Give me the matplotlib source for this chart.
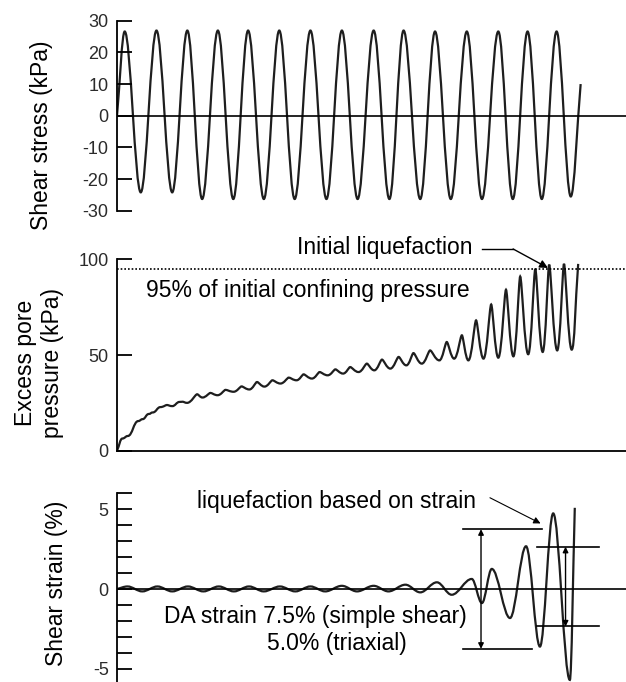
import numpy as np
import matplotlib.pyplot as plt
from matplotlib.path import Path
from matplotlib.patches import PathPatch

plt.rcParams['font.family'] = ['Liberation Sans', 'DejaVu Sans']
plt.rcParams['axes.unicode_minus'] = False

# Shear stress: loading cycle at each turning point and the stress there (kPa).
stress_cycle = [0.0, 0.25, 0.77, 1.28, 1.79, 2.28, 2.76, 3.27, 3.77, 4.25, 4.76,
                5.26, 5.76, 6.27, 6.79, 7.29, 7.80, 8.32, 8.83, 9.29, 9.83,
                10.31, 10.82, 11.34, 11.83, 12.36, 12.83, 13.31, 13.77, 14.25,
                14.71, 15.03]
stress_kpa = [0.0, 26.6, -24.2, 26.9, -24.2, 26.9, -26.3, 26.9, -26.3, 26.9, -26.3,
              26.9, -26.3, 26.9, -26.3, 26.9, -26.3, 26.9, -26.3, 26.9, -26.3,
              26.6, -26.3, 26.6, -26.3, 26.6, -26.3, 26.6, -26.3, 26.6,
              -25.5, 10.0]

# Excess pore pressure (kPa) at its local highs and lows.
pore_cycle = [0.0, 0.18, 0.35, 0.69, 0.83, 1.03, 1.16, 1.41, 1.62, 1.79, 2.03,
              2.13, 2.27, 2.60, 2.77, 3.03, 3.26, 3.52, 3.78, 4.04, 4.29, 4.54,
              4.78, 5.04, 5.30, 5.57, 5.82, 6.05, 6.32, 6.57, 6.83, 7.08, 7.33,
              7.56, 7.83, 8.10, 8.34, 8.59, 8.86, 9.13, 9.38, 9.61, 9.88, 10.15,
              10.45, 10.69, 10.93, 11.18, 11.39, 11.64, 11.88, 12.13, 12.36,
              12.61, 12.85, 13.07, 13.33, 13.56, 13.80, 14.01, 14.27, 14.49,
              14.74, 14.95]
pore_kpa = [0.0, 6.4, 7.7, 15.5, 16.5, 19.2, 20.0, 22.8, 23.9, 23.3, 25.5,
            25.6, 25.0, 29.5, 27.8, 30.2, 29.0, 31.8, 30.8, 33.6, 32.0, 35.9,
            33.5, 36.8, 35.1, 38.2, 36.8, 39.9, 37.7, 41.1, 39.4, 42.5, 40.3,
            43.7, 41.1, 45.5, 42.0, 47.6, 42.9, 49.0, 44.6, 51.0, 45.5, 52.4,
            47.2, 56.8, 48.1, 60.3, 47.2, 68.1, 48.1, 76.4, 48.6,
            84.1, 49.3, 91.0, 50.4, 95.0, 51.6, 97.2, 52.4, 97.6,
            52.8, 97.6]
liquefaction_ratio = 95  # % of initial confining pressure (100 kPa)

# Shear strain (%) at its peaks and troughs.
strain_cycle = [0.0, 0.34, 0.82, 1.31, 1.79, 2.30, 2.80, 3.30, 3.79, 4.28, 4.76,
                5.28, 5.78, 6.27, 6.75, 7.29, 7.78, 8.32, 8.80, 9.35, 9.83,
                10.37, 10.85, 11.50, 11.83, 12.15, 12.74, 13.26, 13.71, 14.14,
                14.68, 14.84]
strain_pct = [0.0, 0.16, -0.15, 0.16, -0.15, 0.16, -0.15, 0.16, -0.15, 0.16, -0.15,
              0.16, -0.15, 0.16, -0.15, 0.20, -0.15, 0.20, -0.15, 0.27, -0.21,
              0.42, -0.36, 0.63, -0.88, 1.26, -1.82, 2.68, -3.61, 4.74,
              -5.70, 5.09]

# Double amplitude strain criteria (%)
da_simple_shear = 7.5
da_triaxial = 5.0
triaxial_top = 2.65


def smooth_curve(ax, xs, ys, k_high=0.36, k_low=0.36, **kw):
    # Join the turning points with cubic segments that are flat at each turn;
    # a short handle gives a sharp turn, a long one a rounded turn.
    n = len(xs)

    def handle(i):
        if 0 < i < n - 1 and ys[i] >= max(ys[i - 1], ys[i + 1]):
            return k_high
        return k_low

    verts = [(xs[0], ys[0])]
    codes = [Path.MOVETO]
    for i in range(n - 1):
        dx = xs[i + 1] - xs[i]
        dy = ys[i + 1] - ys[i]
        k0, k1 = handle(i), handle(i + 1)
        if i == 0:
            c1 = (xs[i] + k0 * dx, ys[i] + k0 * dy)
        else:
            c1 = (xs[i] + k0 * dx, ys[i])
        if i == n - 2:
            c2 = (xs[i + 1] - k1 * dx, ys[i + 1] - k1 * dy)
        else:
            c2 = (xs[i + 1] - k1 * dx, ys[i + 1])
        verts += [c1, c2, (xs[i + 1], ys[i + 1])]
        codes += [Path.CURVE4] * 3
    ax.add_patch(PathPatch(Path(verts, codes), fill=False, **kw))


def style_axis(ax, ymin, ymax, show_bottom=False):
    ax.set_xlim(0, 16.5)
    ax.set_ylim(ymin, ymax)
    ax.set_xticks([])
    for side in ['top', 'right']:
        ax.spines[side].set_visible(False)
    ax.spines['bottom'].set_visible(show_bottom)
    ax.spines['left'].set_linewidth(1.3)
    ax.spines['bottom'].set_linewidth(1.3)
    ax.tick_params(axis='y', which='both', direction='in', length=10.8,
                   width=1.3, pad=6, labelsize=13, labelcolor='#2b2b2b')
    ax.patch.set_alpha(0)


curve_style = dict(edgecolor='#1e1e1e', linewidth=1.6)

fig = plt.figure(figsize=(6.26, 6.82), dpi=100)

# Shear stress
ax1 = fig.add_axes([0.1869, 0.691, 0.8131, 0.2786])
style_axis(ax1, -30, 30)
ax1.set_yticks(range(-30, 31, 10))
ax1.axhline(0, color='k', lw=1.2)
smooth_curve(ax1, stress_cycle, stress_kpa, **curve_style)

# Excess pore pressure
ax2 = fig.add_axes([0.1869, 0.3391, 0.8131, 0.2807])
style_axis(ax2, 0, 100, show_bottom=True)
ax2.set_yticks([0, 50, 100])
ax2.axhline(liquefaction_ratio, color='k', lw=1.2, linestyle=(0, (1, 1.2)))
smooth_curve(ax2, pore_cycle, pore_kpa, k_high=0.22, k_low=0.45, **curve_style)
ax2.text(0.93, 83.7, '%d%% of initial confining pressure' % liquefaction_ratio,
         fontsize=16.5, va='center')
ax2.text(5.84, 106.2, 'Initial liquefaction', fontsize=16.5, va='center')
ax2.plot([11.83, 12.84], [105.4, 105.4], color='k', lw=1, clip_on=False)
ax2.annotate('', xy=(13.97, 95.5), xytext=(12.84, 105.4),
             arrowprops=dict(arrowstyle='-|>', color='k', lw=1,
                             mutation_scale=12, shrinkA=0, shrinkB=0),
             annotation_clip=False)

# Shear strain
ax3 = fig.add_axes([0.1869, -0.004, 0.8131, 0.2807])
style_axis(ax3, -6, 6)
ax3.set_yticks([-5, 0, 5])
ax3.set_yticks(range(-6, 7), minor=True)
ax3.axhline(0, color='k', lw=1.2)
smooth_curve(ax3, strain_cycle, strain_pct, **curve_style)

# DA strain markers
ss_top, ss_bot = da_simple_shear / 2, -da_simple_shear / 2
tx_top, tx_bot = triaxial_top, triaxial_top - da_triaxial
ax3.plot([11.20, 13.77], [ss_top, ss_top], color='k', lw=1.2)
ax3.plot([11.20, 13.46], [ss_bot, ss_bot], color='k', lw=1.2)
ax3.plot([13.62, 15.62], [tx_top, tx_top], color='k', lw=1.2)
ax3.plot([13.62, 15.62], [tx_bot, tx_bot], color='k', lw=1.2)
for x, y0, y1 in [(11.80, ss_bot, ss_top), (14.54, tx_bot, tx_top)]:
    ax3.annotate('', xy=(x, y1), xytext=(x, y0),
                 arrowprops=dict(arrowstyle='<|-|>', color='k', lw=1,
                                 mutation_scale=8, shrinkA=0, shrinkB=0))

ax3.text(2.60, 5.51, 'liquefaction based on strain', fontsize=16.5, va='center')
ax3.annotate('', xy=(13.73, 4.11), xytext=(12.09, 5.72),
             arrowprops=dict(arrowstyle='-|>', color='k', lw=0.8,
                             mutation_scale=10, shrinkA=0, shrinkB=0))
ax3.text(1.52, -1.72, 'DA strain %.1f%% (simple shear)' % da_simple_shear,
         fontsize=16.5, va='center')
ax3.text(4.87, -3.40, '%.1f%% (triaxial)' % da_triaxial, fontsize=16.5,
         va='center')

# Axis titles
fig.text(0.0666, 0.802, 'Shear stress (kPa)', rotation=90, fontsize=16.5,
         ha='center', va='center')
fig.text(0.0626, 0.468, 'Excess pore\npressure (kPa)', rotation=90,
         fontsize=16.5, ha='center', va='center', multialignment='center')
fig.text(0.0906, 0.145, 'Shear strain (%)', rotation=90, fontsize=16.5,
         ha='center', va='center')

plt.savefig('out.png', dpi=100)
